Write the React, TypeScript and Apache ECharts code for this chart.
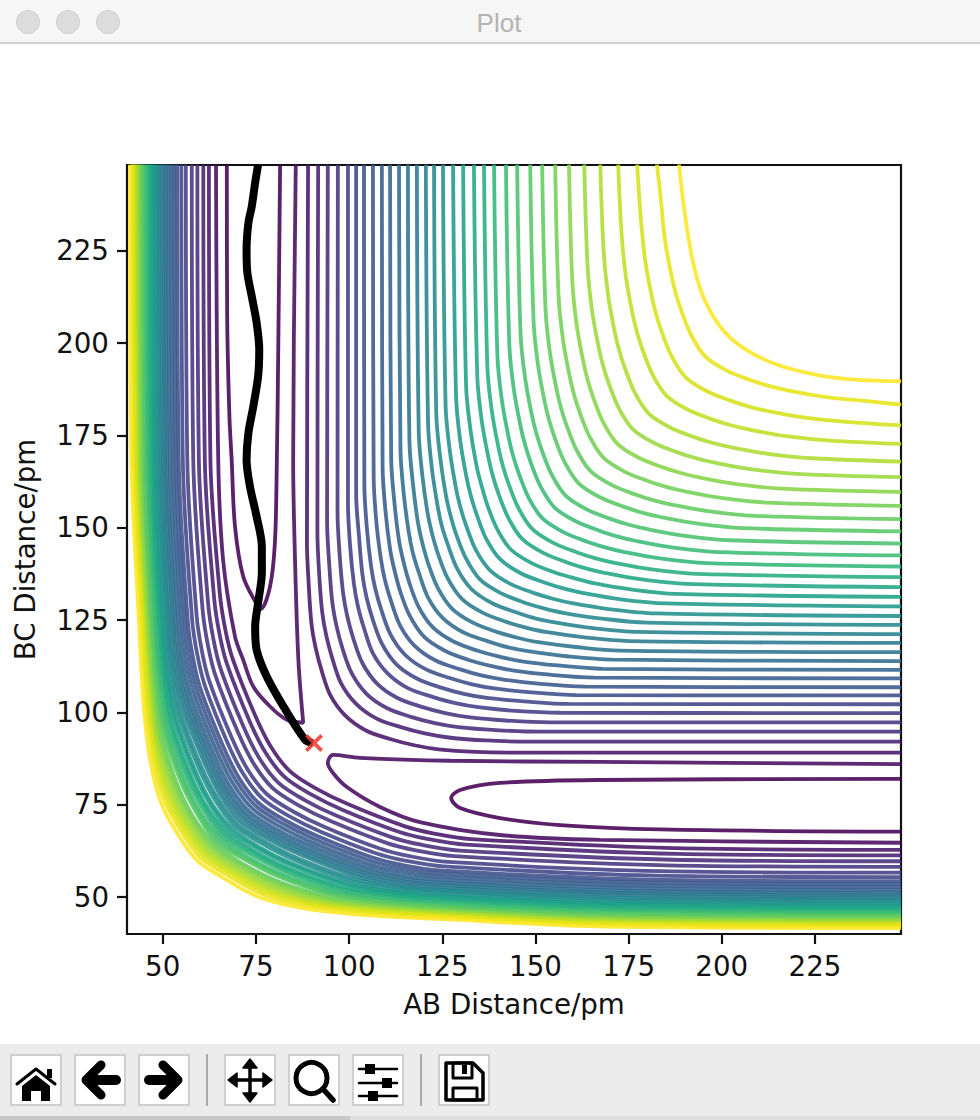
import React, { useEffect, useRef } from "react";
import * as echarts from "echarts";

const viridis = ["#440154","#460b5e","#471669","#482173","#472c7a","#463480","#433e85","#404688","#3d4e8a","#39568c","#365c8d","#33638d","#2f6c8e","#2c738e","#297a8e","#26828e","#238a8d","#21908d","#1f988b","#1fa088","#21a685","#27ad81","#32b67a","#3bbb75","#4ac16d","#58c765","#62cb5f","#74d055","#86d549","#9bd93c","#addc30","#c2df23","#d5e21a","#e7e419","#fde725"];
const xTicks = [50,75,100,125,150,175,200,225];
const yTicks = [50,75,100,125,150,175,200,225];

// Upper-right family, yellow (level 34) first.
const upperContours = [
[[188.5,248.3],[190.2,234.2],[192.3,221.8],[195,212.6],[199.6,204.4],[205.7,198.7],[214.9,194.1],[226.4,191.2],[237,190],[248.1,189.6]],
[[182.6,248.3],[183.5,240.3],[184.7,228.3],[186.5,218.3],[187.7,213.3],[189.3,208.3],[191.9,201.9],[195.6,196.3],[201.2,192.6],[207.6,190],[212.6,188.4],[217.6,187.2],[227.6,185.4],[239.6,184.2],[248.1,183.3]],
[[177.3,248.3],[178.2,234.7],[179.4,222.7],[181.2,212.7],[182.4,207.7],[184,202.7],[186.6,196.3],[190.3,190.7],[195.9,187],[202.3,184.4],[207.3,182.8],[212.3,181.6],[222.3,179.8],[234.3,178.6],[248.1,177.7]],
[[172.2,248.3],[173.1,229.7],[174.3,217.7],[176.1,207.7],[177.3,202.7],[178.9,197.7],[181.5,191.3],[185.2,185.7],[190.8,182],[197.2,179.4],[202.2,177.8],[207.2,176.6],[217.2,174.8],[229.2,173.6],[248.1,172.7]],
[[167.4,248.3],[168.3,224.9],[169.5,212.9],[171.3,202.9],[172.5,197.9],[174.1,192.9],[176.7,186.5],[180.4,180.9],[186,177.2],[192.4,174.6],[197.4,173],[202.4,171.8],[212.4,170],[224.4,168.8],[248.1,167.9]],
[[163.1,248.3],[164,220.7],[165.2,208.7],[167,198.7],[168.2,193.7],[169.8,188.7],[172.4,182.3],[176.1,176.7],[181.7,173],[188.1,170.4],[193.1,168.8],[198.1,167.6],[208.1,165.8],[220.1,164.6],[248.1,163.7]],
[[159,248.3],[159.9,216.7],[161.1,204.7],[162.9,194.7],[164.1,189.7],[165.7,184.7],[168.3,178.3],[172,172.7],[177.6,169],[184,166.4],[189,164.8],[194,163.6],[204,161.8],[216,160.6],[248.1,159.7]],
[[155.3,248.3],[156.2,212.9],[157.4,200.9],[159.2,190.9],[160.4,185.9],[162,180.9],[164.6,174.5],[168.3,168.9],[173.9,165.2],[180.3,162.6],[185.3,161],[190.3,159.8],[200.3,158],[212.3,156.8],[248.1,155.9]],
[[151.8,248.3],[152.7,209.3],[153.9,197.3],[155.7,187.3],[156.9,182.3],[158.5,177.3],[161.1,170.9],[164.8,165.3],[170.4,161.6],[176.8,159],[181.8,157.4],[186.8,156.2],[196.8,154.4],[208.8,153.2],[248.1,152.3]],
[[148.6,248.3],[149.5,206],[150.7,194],[152.5,184],[153.7,179],[155.3,174],[157.9,167.6],[161.6,162],[167.2,158.3],[173.6,155.7],[178.6,154.1],[183.6,152.9],[193.6,151.1],[205.6,149.9],[248.1,149]],
[[145.1,248.3],[146,202.7],[147.2,190.7],[149,180.7],[150.2,175.7],[151.8,170.7],[154.4,164.3],[158.1,158.7],[163.7,155],[170.1,152.4],[175.1,150.8],[180.1,149.6],[190.1,147.8],[202.1,146.6],[248.1,145.7]],
[[142.1,248.3],[143,199.5],[144.2,187.5],[146,177.5],[147.2,172.5],[148.8,167.5],[151.4,161.1],[155.1,155.5],[160.7,151.8],[167.1,149.2],[172.1,147.6],[177.1,146.4],[187.1,144.6],[199.1,143.4],[248.1,142.5]],
[[138.9,248.3],[139.8,196.5],[141,184.5],[142.8,174.5],[144,169.5],[145.6,164.5],[148.2,158.1],[151.9,152.5],[157.5,148.8],[163.9,146.2],[168.9,144.6],[173.9,143.4],[183.9,141.6],[195.9,140.4],[248.1,139.5]],
[[136.2,248.3],[137.1,193.6],[138.3,181.6],[140.1,171.6],[141.3,166.6],[142.9,161.6],[145.5,155.2],[149.2,149.6],[154.8,145.9],[161.2,143.3],[166.2,141.7],[171.2,140.5],[181.2,138.7],[193.2,137.5],[248.1,136.6]],
[[133.5,248.3],[134.4,190.9],[135.6,178.9],[137.4,168.9],[138.6,163.9],[140.2,158.9],[142.8,152.5],[146.5,146.9],[152.1,143.2],[158.5,140.6],[163.5,139],[168.5,137.8],[178.5,136],[190.5,134.8],[248.1,133.9]],
[[130.6,248.3],[131.4,188.3],[132.6,176.3],[134.3,166.3],[135.6,161.2],[137.1,156.1],[139.7,149.7],[143.4,144.1],[149,140.4],[155.4,137.8],[160.5,136.3],[165.6,135],[175.6,133.3],[187.6,132.1],[248.1,131.3]],
[[127.9,248.3],[128.7,185.7],[129.8,173.7],[131.5,163.7],[132.7,158.5],[134.3,153.4],[136.8,147],[140.6,141.4],[146.2,137.6],[152.6,135.1],[157.7,133.5],[162.9,132.3],[172.9,130.6],[184.9,129.5],[248.1,128.7]],
[[125.2,248.3],[125.9,183.1],[127,171.1],[128.6,161.1],[129.8,155.8],[131.4,150.6],[133.9,144.2],[137.7,138.6],[143.3,134.8],[149.7,132.3],[154.9,130.7],[160.2,129.5],[170.2,127.9],[182.2,126.8],[248.1,126.1]],
[[122.8,248.3],[123.4,180.7],[124.5,168.7],[126,158.7],[127.2,153.4],[128.8,148],[131.4,141.6],[135.1,136],[140.7,132.3],[147.1,129.7],[152.5,128.1],[157.8,126.9],[167.8,125.4],[179.8,124.3],[248.1,123.7]],
[[120.6,248.3],[121.2,178.2],[122.2,166.2],[123.7,156.2],[124.8,150.8],[126.5,145.4],[129,138.9],[132.8,133.4],[138.3,129.6],[144.8,127.1],[150.2,125.4],[155.6,124.3],[165.6,122.8],[177.6,121.8],[248.1,121.2]],
[[118.2,248.3],[118.7,175.8],[119.7,163.8],[121.1,153.8],[122.3,148.3],[123.9,142.8],[126.4,136.4],[130.2,130.8],[135.8,127],[142.2,124.5],[147.7,122.9],[153.2,121.7],[163.2,120.3],[175.2,119.3],[248.1,118.8]],
[[115.8,248.3],[116.2,173.3],[117.2,161.3],[118.5,151.3],[119.7,145.7],[121.3,140.1],[123.8,133.7],[127.6,128.1],[133.2,124.3],[139.6,121.8],[145.2,120.2],[150.8,119],[160.8,117.7],[172.8,116.7],[248.1,116.3]],
[[113.4,248.3],[113.8,170.9],[114.7,158.9],[116,148.9],[117.1,143.2],[118.8,137.6],[121.2,131.1],[125.1,125.6],[130.6,121.7],[137.1,119.3],[142.7,117.6],[148.4,116.5],[158.4,115.2],[170.4,114.3],[248.1,113.9]],
[[111,248.3],[111.3,168.5],[112.2,156.5],[113.4,146.5],[114.6,140.8],[116.2,135],[118.7,128.5],[122.5,123],[128,119.2],[134.5,116.7],[140.3,115.1],[146,113.9],[156,112.7],[168,111.8],[248.1,111.5]],
[[108.8,248.3],[109,166.2],[109.8,154.2],[111,144.2],[112.2,138.4],[113.8,132.5],[116.3,126.1],[120.1,120.5],[125.7,116.7],[132.1,114.2],[138,112.6],[143.8,111.4],[153.8,110.2],[165.8,109.4],[248.1,109.2]],
[[106.4,248.3],[106.6,163.8],[107.3,151.8],[108.5,141.8],[109.6,135.9],[111.3,130],[113.7,123.5],[117.6,118],[123.1,114.1],[129.6,111.7],[135.5,110],[141.4,108.9],[151.4,107.7],[163.4,107],[248.1,106.8]],
[[104,248.3],[104.1,161.6],[104.8,149.6],[105.9,139.6],[107,133.6],[108.7,127.6],[111.1,121.1],[115,115.6],[120.5,111.7],[127,109.3],[133,107.6],[139,106.5],[149,105.4],[161,104.7],[248.1,104.6]],
[[101.9,248.3],[101.9,159.2],[102.7,147.2],[103.6,137.2],[104.7,131.1],[106.4,125],[108.8,118.6],[112.7,113],[118.3,109.1],[124.7,106.7],[130.8,105],[136.9,103.9],[146.9,103],[158.9,102.3],[248.1,102.2]],
[[99.7,248.3],[99.7,156.8],[100.3,144.8],[101.3,134.8],[102.4,128.6],[104.1,122.5],[106.4,116],[110.4,110.5],[115.9,106.5],[122.4,104.2],[128.5,102.5],[134.7,101.4],[144.7,100.4],[156.7,99.9],[248.1,99.8]],
[[97,248.3],[96.9,154.3],[97.5,142.3],[98.4,132.3],[99.5,126.1],[101.2,119.8],[103.6,113.3],[107.5,107.8],[113,103.9],[119.5,101.5],[125.8,99.8],[132,98.7],[142,97.8],[154,97.3],[248.1,97.3]],
[[94.3,248.3],[94.1,151.8],[94.7,139.8],[95.5,129.8],[96.6,123.5],[98.3,117.1],[100.7,110.6],[104.6,105.1],[110.1,101.2],[116.6,98.8],[123,97.1],[129.3,96],[139.3,95.2],[151.3,94.8],[248.1,94.8]],
[[91.7,248.3],[91.5,149.1],[92,137.1],[92.8,127.1],[93.9,120.7],[95.6,114.3],[97.9,107.8],[101.9,102.3],[107.4,98.3],[113.9,96],[120.3,94.3],[126.7,93.2],[136.7,92.4],[148.7,92.1],[248.1,92.1]],
[[89,248.3],[88.7,146.1],[89.2,134.1],[89.9,124.1],[91,117.6],[92.7,111.1],[95,104.6],[99,99.1],[104.5,95.1],[111,92.8],[117.5,91.1],[124,90],[134,89.3],[146,89.1],[248.1,89.1]],
];

// Lower-left family, level 2 first, yellow (level 34) last.
const lowerContours = [
[[62.4,248.3],[62.8,168.4],[65.3,132.4],[66.8,122.4],[68.8,114.4],[74.7,99.4],[78.9,90.9],[84.1,84.1],[91.3,79.3],[99.8,75.1],[114.8,69.2],[122.8,67.2],[132.8,65.7],[189.8,63.2],[248.1,62.8]],
[[60.9,248.3],[61.3,168.4],[63.8,130.9],[65.3,120.9],[67.3,112.9],[73.2,97.9],[77.4,89.4],[82.6,82.6],[89.8,77.8],[98.3,73.6],[113.3,67.7],[121.3,65.7],[131.3,64.2],[188.3,61.7],[248.1,61.3]],
[[59.3,248.3],[59.7,168.4],[62.2,129.3],[63.7,119.3],[65.7,111.3],[71.6,96.3],[75.8,87.8],[81,81],[88.2,76.2],[96.7,72],[111.7,66.1],[119.7,64.1],[129.7,62.6],[186.7,60.1],[248.1,59.7]],
[[57.8,248.3],[58.2,168.4],[60.7,127.8],[62.2,117.8],[64.2,109.8],[70.1,94.8],[74.3,86.3],[79.5,79.5],[86.7,74.7],[95.2,70.5],[110.2,64.6],[118.2,62.6],[128.2,61.1],[185.2,58.6],[248.1,58.2]],
[[56.2,248.3],[56.6,168.4],[59.1,126.2],[60.6,116.2],[62.6,108.2],[68.5,93.2],[72.7,84.7],[77.9,77.9],[85.1,73.1],[93.6,68.9],[108.6,63],[116.6,61],[126.6,59.5],[183.6,57],[248.1,56.6]],
[[55,248.3],[55.4,168.4],[57.9,125],[59.4,115],[61.4,107],[67.3,92],[71.5,83.5],[76.7,76.7],[83.9,71.9],[92.4,67.7],[107.4,61.8],[115.4,59.8],[125.4,58.3],[182.4,55.8],[248.1,55.4]],
[[53.9,248.3],[54.3,168.4],[56.8,123.9],[58.3,113.9],[60.3,105.9],[66.2,90.9],[70.4,82.4],[75.6,75.6],[82.8,70.8],[91.3,66.6],[106.3,60.7],[114.3,58.7],[124.3,57.2],[181.3,54.7],[248.1,54.3]],
[[53.1,248.3],[53.5,168.4],[56,123.1],[57.5,113.1],[59.5,105.1],[65.4,90.1],[69.6,81.6],[74.8,74.8],[82,70],[90.5,65.8],[105.5,59.9],[113.5,57.9],[123.5,56.4],[180.5,53.9],[248.1,53.5]],
[[52.3,248.3],[52.7,168.4],[55.2,122.3],[56.7,112.3],[58.7,104.3],[64.6,89.3],[68.8,80.8],[74,74],[81.2,69.2],[89.7,65],[104.7,59.1],[112.7,57.1],[122.7,55.6],[179.7,53.1],[248.1,52.7]],
[[51.5,248.3],[51.9,168.4],[54.4,121.5],[55.9,111.5],[57.9,103.5],[63.8,88.5],[68,80],[73.2,73.2],[80.4,68.4],[88.9,64.2],[103.9,58.3],[111.9,56.3],[121.9,54.8],[178.9,52.3],[248.1,51.9]],
[[50.8,248.3],[51.2,168.4],[53.7,120.8],[55.2,110.8],[57.2,102.8],[63.1,87.8],[67.3,79.3],[72.5,72.5],[79.7,67.7],[88.2,63.5],[103.2,57.6],[111.2,55.6],[121.2,54.1],[178.2,51.6],[248.1,51.2]],
[[50.2,248.3],[50.6,168.4],[53.1,120.2],[54.6,110.2],[56.6,102.2],[62.5,87.2],[66.7,78.7],[71.9,71.9],[79.1,67.1],[87.6,62.9],[102.6,57],[110.6,55],[120.6,53.5],[177.6,51],[248.1,50.6]],
[[49.6,248.3],[50,168.4],[52.5,119.6],[54,109.6],[56,101.6],[61.9,86.6],[66.1,78.1],[71.3,71.3],[78.5,66.5],[87,62.3],[102,56.4],[110,54.4],[120,52.9],[177,50.4],[248.1,50]],
[[49,248.3],[49.4,168.4],[51.9,119],[53.4,109],[55.4,101],[61.3,86],[65.5,77.5],[70.6,70.6],[77.9,65.9],[86.4,61.7],[101.4,55.8],[109.4,53.8],[119.4,52.3],[176.4,49.8],[248.1,49.4]],
[[48.5,248.3],[48.9,168.4],[51.4,119.9],[52.8,108.7],[54.8,99.9],[60.4,85.2],[64.8,76.6],[69.9,69.9],[77,65.2],[85.6,60.8],[100.3,55.2],[109.1,53.2],[120.3,51.8],[175.9,49.3],[248.1,48.9]],
[[47.9,248.3],[48.3,168.4],[50.8,119.3],[52.2,108.1],[54.2,99.3],[59.8,84.6],[64.2,76],[69.3,69.3],[76.4,64.6],[85,60.2],[99.7,54.6],[108.5,52.6],[119.7,51.2],[175.3,48.7],[248.1,48.3]],
[[47.4,248.3],[47.8,168.4],[50.2,120.2],[51.6,107.8],[53.6,98.2],[58.9,83.8],[63.4,75],[68.6,68.6],[75.4,63.8],[84.2,59.3],[98.6,54],[108.2,52],[120.6,50.6],[174.8,48.2],[248.1,47.8]],
[[47,248.3],[47.4,168.4],[49.8,119.8],[51.2,107.4],[53.2,97.8],[58.5,83.4],[63,74.6],[68,68],[75,63.4],[83.8,58.9],[98.2,53.6],[107.8,51.6],[120.2,50.2],[174.4,47.8],[248.1,47.4]],
[[46.5,248.3],[46.9,168.4],[49.3,120.7],[50.7,107.1],[52.6,96.7],[57.7,82.6],[62.3,73.7],[67.4,67.4],[74.1,62.7],[83,58.1],[97.1,53],[107.5,51.1],[121.1,49.7],[173.9,47.3],[248.1,46.9]],
[[46.1,248.3],[46.5,168.4],[48.9,120.3],[50.3,106.7],[52.2,96.3],[57.3,82.2],[61.9,73.3],[66.8,66.8],[73.7,62.3],[82.6,57.7],[96.7,52.6],[107.1,50.7],[120.7,49.3],[173.5,46.9],[248.1,46.5]],
[[45.6,248.3],[46,168.4],[48.3,119.8],[49.8,106.2],[51.7,95.8],[56.8,81.7],[61.4,72.8],[66.2,66.2],[73.2,61.8],[82.1,57.2],[96.2,52.1],[106.6,50.2],[120.2,48.8],[173,46.4],[248.1,46]],
[[45.2,248.3],[45.6,168.4],[47.9,120.8],[49.3,106],[51.2,94.8],[56,81],[60.7,71.9],[65.7,65.7],[72.3,61.1],[81.4,56.4],[95.2,51.6],[106.4,49.7],[121.2,48.3],[172.6,46],[248.1,45.6]],
[[44.8,248.3],[45.2,168.4],[47.5,120.4],[48.9,105.6],[50.8,94.4],[55.6,80.6],[60.3,71.5],[65.1,65.1],[71.9,60.7],[81,56],[94.8,51.2],[106,49.3],[120.8,47.9],[172.2,45.6],[248.1,45.2]],
[[44.5,248.3],[44.9,168.4],[47.2,120.1],[48.6,105.3],[50.5,94.1],[55.3,80.3],[60,71.2],[64.6,64.6],[71.6,60.4],[80.7,55.7],[94.5,50.9],[105.7,49],[120.5,47.6],[171.9,45.3],[248.1,44.9]],
[[44.1,248.3],[44.5,168.4],[46.7,121.8],[48.1,105.2],[50,92.8],[54.3,79.5],[59.2,70.1],[64.1,64.1],[70.5,59.6],[79.9,54.7],[93.2,50.4],[105.6,48.5],[122.2,47.1],[171.5,44.9],[248.1,44.5]],
[[43.7,248.3],[44.1,168.4],[46.3,121.4],[47.7,104.8],[49.6,92.4],[53.9,79.1],[58.8,69.7],[63.6,63.6],[70.1,59.2],[79.5,54.3],[92.8,50],[105.2,48.1],[121.8,46.7],[171.1,44.5],[248.1,44.1]],
[[43.4,248.3],[43.8,168.4],[46,121.9],[47.3,104.6],[49.2,91.7],[53.4,78.6],[58.4,69.2],[63.1,63.1],[69.6,58.8],[79,53.8],[92.1,49.6],[105,47.7],[122.3,46.4],[170.8,44.2],[248.1,43.8]],
[[43,248.3],[43.4,168.4],[45.6,122],[46.9,104.3],[48.8,91.2],[52.9,78.1],[57.9,68.6],[62.6,62.6],[69,58.3],[78.5,53.3],[91.6,49.2],[104.7,47.3],[122.4,46],[170.4,43.8],[248.1,43.4]],
[[42.7,248.3],[43.1,168.4],[45.3,122.5],[46.5,104.1],[48.4,90.5],[52.3,77.6],[57.5,68.1],[62.1,62.1],[68.5,57.9],[78,52.7],[90.9,48.8],[104.5,46.9],[122.9,45.7],[170.1,43.5],[248.1,43.1]],
[[42.4,248.3],[42.8,168.4],[44.9,123],[46.2,103.9],[48,89.8],[51.8,77.1],[57,67.5],[61.6,61.6],[67.9,57.4],[77.5,52.2],[90.2,48.4],[104.3,46.6],[123.4,45.3],[169.8,43.2],[248.1,42.8]],
[[42.1,248.3],[42.5,168.4],[44.6,123.6],[45.9,103.7],[47.7,89.2],[51.3,76.6],[56.6,66.9],[61.1,61.1],[67.3,57],[77,51.7],[89.6,48.1],[104.1,46.3],[124,45],[169.5,42.9],[248.1,42.5]],
[[41.7,248.3],[42.1,168.4],[44.2,124.3],[45.4,103.5],[47.2,88.3],[50.6,76],[56,66.2],[60.4,60.4],[66.6,56.4],[76.4,51],[88.7,47.6],[103.9,45.8],[124.7,44.6],[169.1,42.5],[248.1,42.1]],
[[41.2,248.3],[41.6,168.4],[43.6,125.2],[44.8,103.2],[46.6,87.2],[49.7,75.2],[55.2,65.2],[59.6,59.6],[65.6,55.6],[75.6,50.1],[87.6,47],[103.6,45.2],[125.6,44],[168.6,42],[248.1,41.6]],
];

const vShape = [[67.2,248.3],[67.3,207.2],[67.9,180.1],[68.5,168.4],[69.4,150.3],[71.6,136.8],[75,129.7],[76.3,128],[78.8,134.1],[80.1,145.9],[80.6,166.6],[81,198.2],[81.5,248.3]];
const tongue = [[248.1,82],[167.4,81.7],[140.5,80.9],[129.8,79],[127.4,76.8],[129.8,74.1],[140.5,71.4],[156.6,69.5],[183.5,68.3],[248.1,67.7]];
const cusp = [[85.7,248.3],[85,168.4],[85.5,141.3],[86.4,114.2],[87.7,97.2],[83.3,98],[78.8,101.6],[74.3,107],[71.6,114.2],[69.4,120.5],[66.2,141.3],[64.9,168.4],[64.3,248.3]];
const saddle = [[248.1,86],[167.4,86.6],[127.1,86.9],[102.9,87.7],[95.7,88.5],[94.3,86.3],[95.7,83.6],[99.4,79.8],[108.3,74.4],[119,70.3],[140.5,66.8],[167.4,65.5],[248.1,64.7]];
const trajectory = [[75.6,248.3],[74.8,243.4],[73.9,237],[73,232.6],[72.5,225.3],[72.7,219.1],[73.9,212.6],[75.2,205.5],[75.9,198.2],[75.6,191],[74.3,182.8],[73,175.7],[72.5,168.4],[73.4,161.2],[75.2,153],[76.6,144.9],[76.6,137.8],[75.6,129.7],[74.8,123.2],[75.2,116.9],[77.9,109.7],[82.4,101.6],[88.2,92.6],[90.3,91.7]];
const endPoint = [[90.6,91.7]];

function App(){
  const ref=useRef<HTMLDivElement>(null);
  useEffect(()=>{
    const chart=echarts.init(ref.current!,null,{renderer:"svg"});
    const line=(data:any,level:number)=>({type:"line",data,showSymbol:false,symbol:"none",smooth:.33,lineStyle:{color:viridis[level],width:3.8,opacity:.88},z:2,silent:true});
    const series:any[]=[];
    lowerContours.forEach((c,j)=>series.push(line(c,j+2)));
    upperContours.forEach((c,i)=>series.push(line(c,34-i)));
    series.push(line(cusp,1),line(saddle,1),line(vShape,0),line(tongue,0));
    series.push({type:"line",data:trajectory,showSymbol:false,symbol:"none",smooth:.3,lineStyle:{color:"#000",width:8},z:5});
    series.push({type:"scatter",data:endPoint,symbol:"path://M1.5 0L5 3.5L8.5 0L10 1.5L6.5 5L10 8.5L8.5 10L5 6.5L1.5 10L0 8.5L3.5 5L0 1.5Z",symbolSize:18,itemStyle:{color:"#e8392e",opacity:.85},z:6});
    const g=(type:string,o:any)=>({type,...o});
    const box=(x:number)=>g("rect",{shape:{x:x+1,y:1055,width:50,height:50},style:{fill:"#fff",stroke:"#cfcfcf",lineWidth:2}});
    const k=(o:any)=>({stroke:"#000",fill:"none",lineCap:"round",lineJoin:"round",...o});
    const graphic=[
      g("rect",{shape:{x:0,y:0,width:980,height:43},style:{fill:"#f6f6f6"}}),
      g("rect",{shape:{x:0,y:42,width:980,height:2},style:{fill:"#d2d2d2"}}),
      ...[28,68,108].map(x=>g("circle",{shape:{cx:x,cy:22,r:11.5},style:{fill:"#dcdcdc",stroke:"#d0d0d0",lineWidth:1}})),
      g("text",{x:499,y:23,style:{text:"Plot",fill:"#b3b3b3",font:"26px 'Liberation Sans'",textAlign:"center",textVerticalAlign:"middle"}}),
      g("rect",{shape:{x:0,y:1044,width:980,height:72},style:{fill:"#ececec"}}),
      g("rect",{shape:{x:0,y:1116,width:350,height:4},style:{fill:"#c8c8c8"}}),
      g("rect",{shape:{x:350,y:1116,width:630,height:4},style:{fill:"#dedede"}}),
      ...[10,74,138,224,288,352,438].map(box),
      g("rect",{shape:{x:206,y:1054,width:2,height:52},style:{fill:"#ababab"}}),
      g("rect",{shape:{x:420,y:1054,width:2,height:52},style:{fill:"#ababab"}}),
      g("polygon",{shape:{points:[[22,1086],[36,1075],[50,1086],[50,1101],[41,1101],[41,1091],[31,1091],[31,1101],[22,1101]]},style:{fill:"#000"}}),
      g("polyline",{shape:{points:[[17,1084],[36,1069],[55,1084]]},style:k({lineWidth:3})}),
      g("rect",{shape:{x:47,y:1069,width:5,height:9},style:{fill:"#000"}}),
      g("polyline",{shape:{points:[[101,1065],[86,1080],[101,1095]]},style:k({lineWidth:9})}),
      g("line",{shape:{x1:90,y1:1080,x2:116,y2:1080},style:k({lineWidth:10})}),
      g("polyline",{shape:{points:[[163,1065],[178,1080],[163,1095]]},style:k({lineWidth:9})}),
      g("line",{shape:{x1:149,y1:1080,x2:174,y2:1080},style:k({lineWidth:10})}),
      g("line",{shape:{x1:250,y1:1066,x2:250,y2:1094},style:k({lineWidth:3.5})}),
      g("line",{shape:{x1:236,y1:1080,x2:264,y2:1080},style:k({lineWidth:3.5})}),
      g("polygon",{shape:{points:[[250,1059],[243,1068],[257,1068]]},style:{fill:"#000",stroke:"#000",lineWidth:1.5,lineJoin:"round"}}),
      g("polygon",{shape:{points:[[250,1102],[243,1093],[257,1093]]},style:{fill:"#000",stroke:"#000",lineWidth:1.5,lineJoin:"round"}}),
      g("polygon",{shape:{points:[[228,1080],[237,1073],[237,1087]]},style:{fill:"#000",stroke:"#000",lineWidth:1.5,lineJoin:"round"}}),
      g("polygon",{shape:{points:[[272,1080],[263,1073],[263,1087]]},style:{fill:"#000",stroke:"#000",lineWidth:1.5,lineJoin:"round"}}),
      g("circle",{shape:{cx:311.5,cy:1078,r:15.5},style:k({lineWidth:5})}),
      g("line",{shape:{x1:323,y1:1089,x2:333,y2:1100},style:k({lineWidth:5.5})}),
      ...[1069,1083,1096].map(y=>g("line",{shape:{x1:359,y1:y,x2:397,y2:y},style:k({lineWidth:2.5})})),
      g("rect",{shape:{x:365,y:1064,width:10,height:10},style:{fill:"#000"}}),
      g("rect",{shape:{x:382,y:1078,width:10,height:10},style:{fill:"#000"}}),
      g("rect",{shape:{x:368,y:1091,width:10,height:10},style:{fill:"#000"}}),
      g("polygon",{shape:{points:[[446,1063],[473,1063],[483,1073],[483,1100],[446,1100]]},style:k({lineWidth:3.5})}),
      g("rect",{shape:{x:453,y:1063,width:19,height:15},style:k({lineWidth:3})}),
      g("rect",{shape:{x:462,y:1065,width:5,height:9},style:{fill:"#000"}}),
      g("rect",{shape:{x:453,y:1088,width:24,height:12},style:k({lineWidth:3})}),
    ];
    const font="'DejaVu Sans'";
    const axis=(name:string,ticks:number[],min:number,max:number,gap:number,margin:number)=>({type:"value",min,max,name,nameLocation:"middle",nameGap:gap,nameTextStyle:{fontFamily:font,fontSize:27.7,color:"#111"},splitLine:{show:false},axisLine:{show:false},axisTick:{show:true,length:10,lineStyle:{width:2.2,color:"#111"},customValues:ticks},axisLabel:{fontFamily:font,fontSize:27.7,color:"#111",margin,customValues:ticks}});
    chart.setOption({animation:false,backgroundColor:"#fff",graphic,
      grid:{left:127,top:165,width:774,height:769,show:true,borderColor:"#111",borderWidth:2.2,backgroundColor:"transparent",outerBoundsMode:"none"},
      xAxis:axis("AB Distance/pm",xTicks,40.42,248.08,56,18),
      yAxis:axis("BC Distance/pm",yTicks,40,248.2,88,18),
      series});
    return ()=>chart.dispose();
  },[]);
  return <div ref={ref} style={{position:"absolute",left:0,top:0,width:980,height:1120}}/>;
}
export default App;
